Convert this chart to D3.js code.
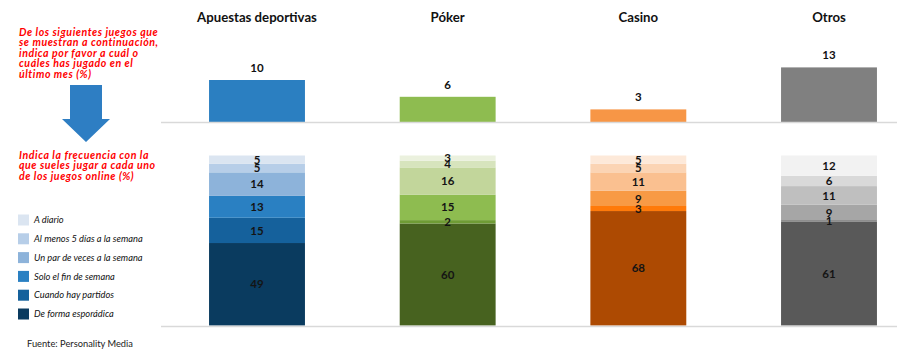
<!DOCTYPE html>
<html>
<head>
<meta charset="utf-8">
<script src="https://cdn.jsdelivr.net/npm/d3@7"></script>
<style>
  html, body { margin: 0; padding: 0; background: #ffffff; }
  svg { display: block; }
</style>
</head>
<body>
<svg id="chart" width="907" height="356"></svg>
<script>
// ---------- DATA ----------
const categories = ["Apuestas deportivas", "Póker", "Casino", "Otros"];
const lastMonth = [10, 6, 3, 13];

const frequencyLabels = [
  "A diario",
  "Al menos 5 días a la semana",
  "Un par de veces a la semana",
  "Solo el fin de semana",
  "Cuando hay partidos",
  "De forma esporádica"
];
const aDiario      = [5, 3, 5, 12];
const alMenos5     = [5, 4, 5, 6];
const unPar        = [14, 16, 11, 11];
const finDeSemana  = [13, 15, 9, 9];
const partidos     = [15, 2, 3, 1];
const esporadica   = [49, 60, 68, 61];

const question1 = ["De los siguientes juegos que", "se muestran a continuación,", "indica por favor a cuál o", "cuáles has jugado en el", "último mes (%)"];
const question2 = ["Indica la frecuencia con la", "que sueles jugar a cada uno", "de los juegos online (%)"];
const sourceText = "Fuente: Personality Media";

// ---------- STYLE ----------
const topColors = ["#2b7fc1", "#8ebc50", "#f79646", "#808080"];
// per category, ordered A diario -> De forma esporádica
const segColors = [
  ["#dbe5f1", "#b7cee8", "#8db3da", "#2a80c2", "#15619c", "#0a3b5f"],
  ["#ebf1de", "#d7e4bd", "#c2d69b", "#8ebc50", "#6f9c35", "#47621f"],
  ["#fde9d9", "#fbd4b4", "#fac090", "#f89a45", "#ff7a0a", "#ad4a02"],
  ["#f2f2f2", "#d9d9d9", "#bfbfbf", "#a6a6a6", "#808080", "#595959"]
];
const FONT = "Lato, 'Open Sans', 'DejaVu Sans', sans-serif";

// ---------- BUILD ----------
const svg = d3.select("#chart");
const seriesArrays = [aDiario, alMenos5, unPar, finDeSemana, partidos, esporadica];

const rows = categories.map((c, i) => {
  const r = { cat: c, idx: i };
  frequencyLabels.forEach((k, j) => { r[k] = seriesArrays[j][i]; });
  return r;
});

const x = d3.scaleBand()
  .domain(categories)
  .range([161, 925])
  .paddingInner(0.497)
  .paddingOuter(0.252);

const yTop = d3.scaleLinear().domain([0, 20]).range([122, 38]);
const yBot = d3.scaleLinear().domain([0, 1]).range([325.5, 155.5]);

// category headers
svg.append("g").selectAll("text")
  .data(categories)
  .join("text")
  .attr("x", d => x(d) + x.bandwidth() / 2)
  .attr("y", 21.5)
  .attr("text-anchor", "middle")
  .attr("font-family", FONT)
  .attr("font-weight", "bold")
  .attr("font-size", 13.2)
  .attr("fill", "#111")
  .text(d => d);

// top bars
const topG = svg.append("g");
topG.selectAll("rect")
  .data(categories)
  .join("rect")
  .attr("x", d => x(d))
  .attr("width", x.bandwidth())
  .attr("y", (d, i) => yTop(lastMonth[i]))
  .attr("height", (d, i) => yTop(0) - yTop(lastMonth[i]))
  .attr("fill", (d, i) => topColors[i]);

topG.selectAll("text")
  .data(categories)
  .join("text")
  .attr("x", d => x(d) + x.bandwidth() / 2)
  .attr("y", (d, i) => yTop(lastMonth[i]) - 8)
  .attr("text-anchor", "middle")
  .attr("font-family", FONT)
  .attr("font-weight", "bold")
  .attr("font-size", 11.5)
  .attr("fill", "#111")
  .text((d, i) => lastMonth[i]);

// baselines
svg.append("line").attr("x1", 161).attr("x2", 897).attr("y1", 122.5).attr("y2", 122.5)
  .attr("stroke", "#d9d9d9").attr("stroke-width", 1.5);

// stacked bars
const stackKeys = frequencyLabels.slice().reverse(); // bottom = De forma esporádica
const stacked = d3.stack().keys(stackKeys).offset(d3.stackOffsetExpand)(rows);

const botG = svg.append("g");
stacked.forEach(layer => {
  const levelIdx = frequencyLabels.indexOf(layer.key);
  botG.append("g").selectAll("rect")
    .data(layer)
    .join("rect")
    .attr("x", d => x(d.data.cat))
    .attr("width", x.bandwidth())
    .attr("y", d => yBot(d[1]))
    .attr("height", d => yBot(d[0]) - yBot(d[1]))
    .attr("fill", d => segColors[d.data.idx][levelIdx]);
});
stacked.forEach(layer => {
  botG.append("g").selectAll("text")
    .data(layer)
    .join("text")
    .attr("x", d => x(d.data.cat) + x.bandwidth() / 2)
    .attr("y", d => (yBot(d[0]) + yBot(d[1])) / 2)
    .attr("dy", "0.36em")
    .attr("text-anchor", "middle")
    .attr("font-family", FONT)
    .attr("font-weight", "bold")
    .attr("font-size", 11.5)
    .attr("fill", "#141414")
    .text(d => d.data[layer.key]);
});

svg.append("line").attr("x1", 161).attr("x2", 897).attr("y1", 326.5).attr("y2", 326.5)
  .attr("stroke", "#d9d9d9").attr("stroke-width", 1.5);

// left question texts
const q1 = svg.append("text")
  .attr("font-family", FONT).attr("font-weight", "bold").attr("font-style", "italic")
  .attr("font-size", 10.6).attr("letter-spacing", 0.55).attr("fill", "#ff0000");
question1.forEach((t, i) => q1.append("tspan").attr("x", 19).attr("y", 36 + i * 10.4).text(t));

const q2 = svg.append("text")
  .attr("font-family", FONT).attr("font-weight", "bold").attr("font-style", "italic")
  .attr("font-size", 10.6).attr("letter-spacing", 0.55).attr("fill", "#ff0000");
question2.forEach((t, i) => q2.append("tspan").attr("x", 19).attr("y", 159 + i * 10.4).text(t));

// arrow
const ax = 86;
const arrowPts = [
  [ax - 16, 85], [ax + 16, 85], [ax + 16, 119], [ax + 24, 119],
  [ax, 142], [ax - 24, 119], [ax - 16, 119]
];
svg.append("path")
  .attr("d", d3.line()(arrowPts) + "Z")
  .attr("fill", "#2e7ec3");

// legend
const legend = svg.append("g");
const legendItems = legend.selectAll("g")
  .data(frequencyLabels)
  .join("g")
  .attr("transform", (d, i) => `translate(18, ${214.5 + i * 18.8})`);
legendItems.append("rect")
  .attr("width", 11).attr("height", 11)
  .attr("fill", (d, i) => segColors[0][i]);
legendItems.append("text")
  .attr("x", 16).attr("y", 5.5).attr("dy", "0.35em")
  .attr("font-family", FONT).attr("font-style", "italic")
  .attr("font-size", 9.3).attr("fill", "#111")
  .text(d => d);

// source
svg.append("text")
  .attr("x", 27).attr("y", 347)
  .attr("font-family", FONT).attr("font-size", 9.3).attr("fill", "#222")
  .text(sourceText);
</script>
</body>
</html>
